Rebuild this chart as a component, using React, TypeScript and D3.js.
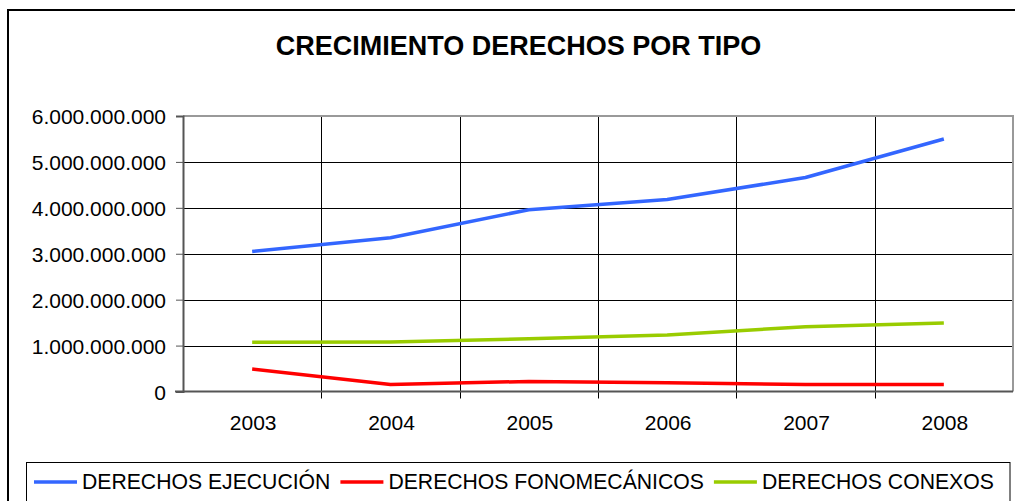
import { useEffect, useRef } from "react";
import * as d3 from "d3";

const years = ["2003", "2004", "2005", "2006", "2007", "2008"];
const ejecucion = [3050000000, 3350000000, 3960000000, 4180000000, 4660000000, 5500000000];
const fonomecanicos = [490000000, 150000000, 220000000, 190000000, 150000000, 150000000];
const conexos = [1070000000, 1080000000, 1150000000, 1230000000, 1410000000, 1490000000];
const yTicks = [0, 1000000000, 2000000000, 3000000000, 4000000000, 5000000000, 6000000000];
const seriesNames = ["DERECHOS EJECUCIÓN", "DERECHOS FONOMECÁNICOS", "DERECHOS CONEXOS"];
const seriesColors = ["#3366FF", "#FF0000", "#99CC00"];

export default function App() {
  const svgRef = useRef<SVGSVGElement>(null);

  useEffect(() => {
    const svg = d3.select(svgRef.current);
    svg.selectAll("*").remove();

    const width = 1015;
    const height = 501;
    const margin = { top: 116, right: 2, bottom: 110, left: 183 };
    const font = "'Liberation Sans', Arial, sans-serif";

    svg.attr("width", width).attr("height", height).style("font-family", font);

    // chart frame (runs off the right and bottom)
    svg.append("rect")
      .attr("x", 8).attr("y", 10)
      .attr("width", 1020).attr("height", 520)
      .attr("fill", "white").attr("stroke", "black").attr("stroke-width", 2);

    svg.append("text")
      .attr("x", 518.5).attr("y", 55)
      .attr("text-anchor", "middle")
      .attr("font-size", 27).attr("font-weight", "bold")
      .text("CRECIMIENTO DERECHOS POR TIPO");

    const x = d3.scaleBand()
      .domain(years)
      .range([margin.left, width - margin.right]);

    const y = d3.scaleLinear()
      .domain([0, 6000000000])
      .range([height - margin.bottom + 0.5, margin.top]);

    const locale = d3.formatLocale({ decimal: ",", thousands: ".", grouping: [3], currency: ["", ""] });
    const fmt = locale.format(",d");

    const plot = svg.append("g");

    // horizontal grid
    plot.selectAll("line.hgrid")
      .data(yTicks.slice(1, -1))
      .enter().append("line")
      .attr("x1", x.range()[0]).attr("x2", x.range()[1])
      .attr("y1", d => Math.round(y(d)) + 0.5).attr("y2", d => Math.round(y(d)) + 0.5)
      .attr("stroke", "black").attr("stroke-width", 1);

    // vertical grid at category boundaries
    plot.selectAll("line.vgrid")
      .data(years.slice(1))
      .enter().append("line")
      .attr("x1", d => Math.round(x(d)!) + 0.5).attr("x2", d => Math.round(x(d)!) + 0.5)
      .attr("y1", y(6000000000)).attr("y2", y(0) + 7)
      .attr("stroke", "black").attr("stroke-width", 1);

    // top and right border of plot
    plot.append("path")
      .attr("d", `M${x.range()[0]},${y(6000000000)}H${x.range()[1]}V${y(0)}`)
      .attr("fill", "none").attr("stroke", "#999").attr("stroke-width", 2);

    // y axis
    const yAxis = plot.append("g")
      .attr("transform", `translate(${x.range()[0]},0)`)
      .call(d3.axisLeft(y).tickValues(yTicks).tickSize(7).tickPadding(10).tickFormat(d => fmt(d as number)));
    yAxis.select(".domain").attr("stroke", "#555").attr("stroke-width", 2);
    yAxis.selectAll(".tick line").attr("stroke", "#555");
    yAxis.selectAll("text")
      .attr("font-size", 21).attr("fill", "black").attr("font-family", font)
      .attr("dy", "0.36em");

    // x axis
    plot.append("line")
      .attr("x1", x.range()[0] - 8).attr("x2", x.range()[1])
      .attr("y1", y(0)).attr("y2", y(0))
      .attr("stroke", "#555").attr("stroke-width", 2);
    plot.selectAll("text.xl")
      .data(years)
      .enter().append("text")
      .attr("x", d => x(d)! + x.bandwidth() / 2 + 1)
      .attr("y", 430)
      .attr("text-anchor", "middle")
      .attr("font-size", 21)
      .text(d => d);

    // lines
    const line = d3.line<number>()
      .x((_, i) => x(years[i])! + x.bandwidth() / 2)
      .y(d => y(d));

    [ejecucion, fonomecanicos, conexos].forEach((s, i) => {
      plot.append("path")
        .datum(s)
        .attr("d", line)
        .attr("fill", "none")
        .attr("stroke", seriesColors[i])
        .attr("stroke-width", 3.5)
        .attr("stroke-linejoin", "round");
    });

    // legend
    svg.append("rect")
      .attr("x", 26.5).attr("y", 462.5)
      .attr("width", 983.5).attr("height", 60)
      .attr("fill", "white").attr("stroke", "black").attr("stroke-width", 1);

    let lx = 34;
    seriesNames.forEach((name, i) => {
      const g = svg.append("g");
      g.append("line")
        .attr("x1", lx).attr("x2", lx + 43)
        .attr("y1", 482).attr("y2", 482)
        .attr("stroke", seriesColors[i]).attr("stroke-width", 3.5);
      const t = g.append("text")
        .attr("x", lx + 48).attr("y", 488.5)
        .attr("font-size", 21.2)
        .text(name);
      const w = (t.node() as SVGTextElement).getComputedTextLength();
      lx = lx + 48 + w + 10;
    });
  }, []);

  return <svg ref={svgRef} style={{ position: "absolute", left: 0, top: 0, display: "block" }} />;
}
